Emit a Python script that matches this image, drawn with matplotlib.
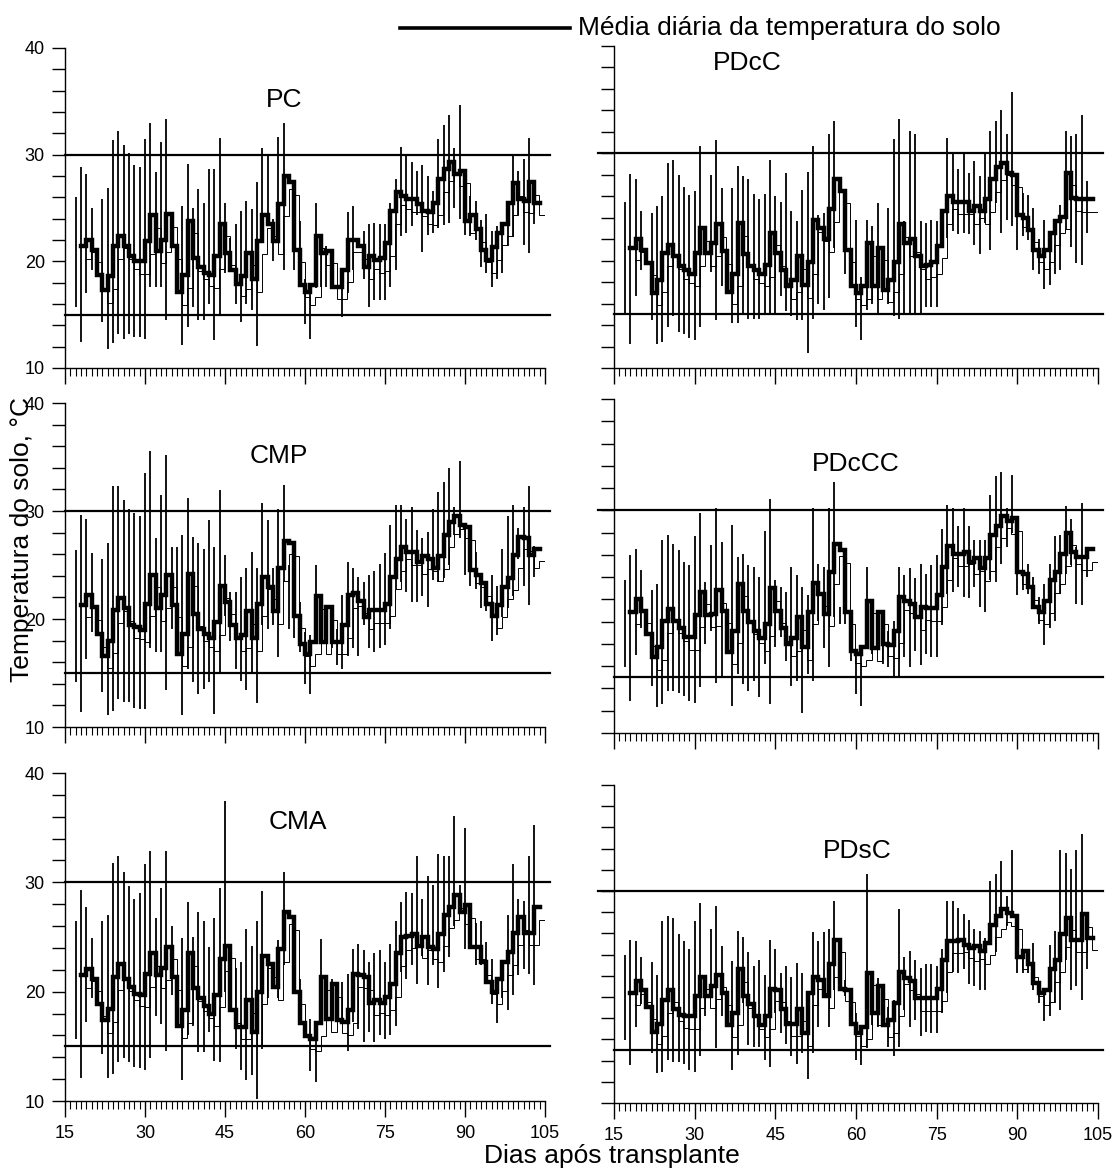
import numpy as np
import matplotlib
matplotlib.use("Agg")
import matplotlib.pyplot as plt
from matplotlib import patheffects as pe
from matplotlib.lines import Line2D
from matplotlib.ticker import FixedLocator, MultipleLocator

plt.rcParams['font.family'] = ['Liberation Sans', 'DejaVu Sans']

nan = np.nan

# ---------------- data (days after transplant 17..103) ----------------
days = list(range(17, 104))
x_ticks = [15, 30, 45, 60, 75, 90, 105]
y_ticks = [10, 12, 14, 16, 18, 20, 22, 24, 26, 28, 30, 32, 34, 36, 38, 40]
y_labels = ["10", "", "", "", "", "20", "", "", "", "", "30", "", "", "", "", "40"]
lower_limit = 15
upper_limit = 30
legend_label = "Média diária da temperatura do solo"
x_label = "Dias após transplante"
y_label = "Temperatura do solo, °C"
panel_names = ["PC", "PDcC", "CMP", "PDcCC", "CMA", "PDsC"]

# ---- PC ----
pc_mean = [nan, 21.4, 22.0, 21.1, 18.7, 17.3, 18.6, 21.4, 22.4, 21.4,
           20.5, 20.0, 20.0, 21.9, 24.3, 21.0, 22.0, 24.4, 21.4, 17.1,
           18.7, 23.8, 20.3, 19.5, 18.9, 18.7, 20.5, 23.5, 20.8, 19.2,
           17.9, 18.6, 20.8, 18.3, 21.9, 24.3, 23.5, 21.9, 25.4, 28.0,
           27.4, 21.1, 17.8, 17.1, 17.8, 22.4, 20.8, 21.0, 17.6, 17.6,
           19.2, 22.0, 22.0, 21.4, 19.5, 20.5, 20.1, 20.3, 21.7, 24.7,
           26.5, 26.1, 25.8, 25.8, 25.4, 24.7, 24.6, 25.5, 27.7, 28.7,
           29.3, 28.2, 28.5, 23.8, 24.3, 23.0, 21.1, 20.1, 21.3, 22.7,
           23.5, 25.5, 27.3, 25.8, 25.7, 27.4, 25.5]
pc_max = [26.0, 28.8, 28.2, 25.0, nan, 25.8, 26.9, 31.4, 32.2, 30.9,
          30.2, 29.0, 28.8, 31.5, 33.0, 28.4, 31.2, 33.3, nan, nan,
          25.2, 29.1, 25.0, 26.8, 25.5, 28.7, 28.7, 31.6, 25.5, 22.2,
          23.5, 24.7, 25.7, 24.9, 27.4, 30.6, 30.1, 24.0, 31.7, 33.0,
          nan, 22.7, 23.8, 18.3, 17.6, 25.5, 22.2, 21.4, nan, nan,
          17.6, 24.6, 25.2, nan, 22.8, 23.5, 23.6, 23.5, 23.5, 25.5,
          27.7, 30.7, 30.1, 29.3, 28.5, 29.0, 28.0, 26.6, 31.5, 32.8,
          33.7, 30.6, 34.7, 25.5, 26.1, 25.7, 23.9, 24.4, 22.8, 23.3,
          23.1, 25.2, 30.1, 28.5, 29.6, 31.6, 26.5]
pc_min = [15.7, 12.4, 17.0, 19.2, nan, 14.3, 11.8, 12.3, 13.2, 12.7,
          13.2, 12.9, 12.9, 12.7, 17.6, 17.6, 17.6, 14.5, nan, nan,
          12.2, 13.8, 15.7, 14.5, 14.5, 16.0, 12.6, 15.1, 18.9, 19.0,
          16.0, 14.3, 16.0, 15.4, 12.1, 23.0, 23.3, 20.0, 24.7, 19.2,
          nan, 19.2, 17.6, 14.1, 12.7, 17.5, 17.6, 17.6, nan, nan,
          14.8, 17.0, 19.2, nan, 18.3, 15.7, 16.4, 16.4, 16.4, 17.6,
          19.2, 22.4, 22.7, 23.3, 24.3, 20.9, 22.5, 22.7, 23.1, 23.4,
          23.6, 25.0, 24.0, 22.5, 22.4, 22.0, 19.5, 18.9, 17.6, 18.3,
          18.9, 21.4, 22.3, 24.3, 21.5, 20.8, 23.5]

# ---- PDcC ----
pdcc_mean = [nan, 21.2, 22.0, 21.0, 19.8, 17.0, 18.2, 20.7, 21.5, 20.4,
             19.5, 19.1, 18.8, 20.7, 23.0, 20.7, 21.6, 23.4, 20.9, 17.1,
             18.8, 23.5, 20.6, 19.5, 19.1, 18.8, 19.6, 22.6, 20.7, 19.1,
             17.6, 18.2, 20.4, 17.7, 19.9, 23.8, 23.0, 22.0, 24.8, 27.6,
             26.5, 21.0, 17.6, 17.0, 17.6, 21.6, 17.6, 21.2, 17.3, 18.2,
             19.9, 23.4, 21.6, 22.0, 20.4, 19.5, 19.6, 19.9, 21.4, 24.6,
             26.0, 25.5, 25.5, 25.5, 24.6, 25.1, 24.6, 25.7, 27.6, 28.7,
             29.1, 28.2, 28.0, 24.3, 24.0, 22.9, 21.0, 20.4, 21.0, 22.6,
             23.7, 24.1, 28.2, 25.8, 25.7, 25.7, 25.7]
pdcc_max = [25.5, 28.1, 27.6, 24.6, nan, 24.4, 25.1, 26.0, 29.1, 29.4,
            28.0, 26.9, 26.1, 26.5, 30.7, nan, 28.0, 31.2, 26.8, nan,
            26.8, 28.8, 27.9, 27.6, 26.2, 25.7, 26.2, 29.4, 26.0, 25.5,
            28.2, 24.6, 23.7, 26.6, 28.3, 30.7, 24.3, 24.4, 31.8, 33.0,
            nan, 24.4, nan, 23.8, 18.5, 23.8, 23.2, 25.4, nan, 24.9,
            31.3, 33.2, 23.7, 32.1, 31.8, 23.7, 23.5, 23.8, 23.7, nan,
            31.4, 29.9, 28.5, 30.1, 28.2, 29.3, 27.9, 29.9, 32.1, 33.0,
            34.0, 31.8, 35.7, 26.9, 26.3, 26.1, 24.9, 22.0, 23.8, 22.3,
            23.2, 25.2, 32.1, 31.6, 31.8, 33.6, 27.4]
pdcc_min = [15.1, 12.2, 16.7, 19.1, nan, 14.5, 12.2, 12.4, 13.8, 14.8,
            13.4, 13.2, 12.8, 12.6, 13.8, nan, 18.9, 14.5, 17.6, nan,
            14.2, 14.2, 15.1, 14.6, 14.6, 14.6, 15.1, 15.1, 14.9, 16.7,
            15.3, 14.8, 14.5, 14.5, 11.4, 14.6, 16.0, 15.4, 16.5, 21.2,
            nan, 18.8, nan, 13.8, 12.6, 15.4, 16.0, 15.1, nan, 16.0,
            14.8, 14.6, 15.1, 15.1, 15.1, 15.1, 15.7, 15.7, 15.7, nan,
            22.1, 22.8, 22.5, 22.6, 22.5, 21.5, 20.6, 23.5, 21.0, 25.4,
            22.6, 23.8, 23.2, 21.0, 22.3, 21.9, 19.1, 18.8, 17.4, 17.7,
            18.8, 19.1, 22.9, 21.3, 19.8, 19.6, 22.6]

# ---- CMP ----
cmp_mean = [nan, 21.3, 22.2, 21.1, 18.6, 16.6, 18.0, 20.8, 21.9, 21.0,
            19.4, 19.3, 19.0, 21.4, 24.1, 21.0, 22.2, 24.1, 21.3, 16.8,
            18.6, 24.2, 20.5, 19.1, 18.6, 18.2, 19.7, 23.1, 21.6, 19.4,
            18.2, 18.5, 20.7, 18.2, 21.4, 23.9, 23.0, 20.7, 24.7, 27.2,
            27.0, 20.3, 17.7, 16.8, 17.9, 22.1, 17.9, 21.1, 17.9, 17.9,
            19.4, 22.2, 22.4, 21.7, 20.2, 20.8, 20.8, 20.8, 21.4, 23.9,
            25.6, 26.7, 26.2, 26.2, 25.3, 25.8, 25.6, 24.7, 25.8, 27.8,
            29.0, 29.5, 28.7, 28.5, 24.5, 24.1, 23.3, 21.4, 20.3, 21.3,
            23.0, 23.8, 25.9, 27.6, 27.5, 25.9, 26.5]
cmp_max = [26.4, 29.6, 29.3, 26.1, nan, 25.6, 27.0, 32.3, 32.3, 31.0,
           30.2, 29.8, 29.5, 33.5, 35.6, 27.5, 31.5, 35.2, 26.7, 26.7,
           27.8, 31.2, 27.6, 27.0, 26.5, 29.2, 26.7, 31.9, 25.9, 22.5,
           22.5, 23.9, 24.7, 26.2, 24.7, 30.7, 29.2, 24.7, 30.2, 32.4,
           25.0, 21.6, 21.6, 18.8, 18.5, 25.0, 21.0, 21.0, 21.0, 19.1,
           22.2, 25.3, 24.7, 23.9, 23.4, 24.1, 24.4, 25.1, 26.1, 28.7,
           30.6, 30.6, 29.3, 30.4, 28.2, 27.5, 28.1, 30.2, 31.8, 32.7,
           34.0, 30.4, 34.6, 28.5, 24.8, 26.2, 23.8, 22.5, 24.1, 23.1,
           26.5, 29.5, 30.6, 28.4, 30.4, 32.3, 26.8]
cmp_min = [14.2, 11.4, 16.3, 18.8, nan, 13.2, 11.1, 11.5, 12.6, 12.3,
           12.3, 11.8, 11.7, 11.7, 17.3, 16.9, 16.9, 13.4, 19.1, 17.7,
           11.1, 15.4, 14.2, 13.1, 13.5, 14.2, 11.2, 15.1, 20.3, 18.0,
           15.4, 14.3, 13.4, 14.9, 12.2, 19.4, 19.1, 19.4, 16.5, 23.4,
           19.1, 18.2, 16.9, 14.0, 13.1, 18.2, 17.9, 17.9, 17.3, 15.7,
           15.4, 16.6, 17.3, 16.6, 19.4, 17.3, 16.9, 17.3, 17.6, 19.1,
           22.8, 23.4, 22.5, 21.6, 21.6, 22.1, 21.1, 23.6, 23.4, 23.8,
           25.0, 27.8, 27.5, 24.1, 23.1, 22.8, 21.0, 20.7, 18.0, 18.5,
           20.2, 21.0, 22.1, 25.6, 23.1, 21.3, 23.9]

# ---- PDcCC ----
pdccc_mean = [nan, 20.9, 22.0, 21.0, 18.9, 16.8, 17.7, 20.1, 21.1, 20.1,
              19.4, 18.6, 18.6, 20.6, 22.7, 20.6, 20.7, 22.8, 21.0, 17.3,
              19.2, 23.4, 21.0, 20.0, 19.2, 18.5, 19.8, 23.0, 21.0, 19.4,
              18.0, 18.5, 20.4, 17.7, 20.9, 23.5, 22.5, 20.7, 24.5, 27.0,
              26.4, 20.9, 17.4, 17.1, 17.7, 21.9, 17.6, 20.9, 18.0, 17.9,
              19.2, 22.2, 21.9, 21.6, 20.4, 21.3, 21.2, 21.2, 22.4, 24.9,
              26.8, 26.1, 26.1, 26.3, 25.4, 25.7, 24.8, 25.7, 27.8, 28.6,
              29.5, 29.0, 29.3, 24.5, 24.3, 23.1, 21.3, 20.9, 21.9, 23.7,
              24.5, 26.1, 28.0, 26.3, 25.8, 25.8, 26.5]
pdccc_max = [23.7, 26.0, 26.5, 24.6, nan, 22.8, 23.4, 27.3, 27.8, 27.0,
             26.4, 25.4, 25.1, 27.7, 29.8, 23.6, 26.9, 30.2, 27.2, nan,
             28.7, 25.8, 26.1, 25.1, 24.9, 24.0, 28.1, 31.0, 23.7, 23.1,
             22.7, 24.9, 24.2, 23.1, 22.4, 30.2, 25.2, 24.9, 30.2, 32.5,
             21.3, 21.3, 18.0, 17.1, 17.4, 24.9, 18.3, 21.0, 19.2, 19.2,
             20.1, 24.9, 24.2, 24.8, 23.9, 25.2, 24.3, 25.1, 26.0, 28.3,
             30.5, 30.2, 28.6, 30.2, 28.6, 27.3, 27.3, 27.3, 31.4, 33.1,
             33.4, 30.2, 33.2, 26.9, 24.6, 25.2, 24.0, 22.2, 23.4, 25.2,
             27.7, 27.8, 30.4, 29.2, 26.7, 30.7, 26.7]
pdccc_min = [15.9, 12.9, 17.0, 19.4, nan, 14.2, 12.3, 12.6, 13.8, 13.8,
             13.6, 13.3, 12.9, 12.7, 14.1, 18.0, 19.2, 14.5, 15.0, nan,
             12.4, 15.3, 14.4, 13.8, 14.7, 13.2, 16.2, 12.6, 17.7, 18.6,
             16.5, 14.2, 14.7, 11.8, 15.3, 14.7, 20.1, 17.6, 15.9, 20.4,
             19.8, 19.8, 16.5, 13.5, 12.4, 19.8, 17.1, 17.6, 16.2, 15.9,
             15.0, 15.0, 16.8, 15.9, 17.4, 16.1, 17.1, 16.8, 16.8, 19.7,
             22.5, 22.7, 23.1, 22.2, 22.1, 23.1, 21.3, 20.9, 23.7, 23.6,
             25.2, 26.7, 28.0, 22.4, 22.8, 22.5, 21.3, 19.8, 17.9, 19.4,
             20.1, 22.5, 24.3, 25.1, 21.6, 21.5, 24.0]

# ---- CMA ----
cma_mean = [nan, 21.5, 22.1, 21.2, 18.9, 17.4, 18.4, 21.3, 22.5, 21.2,
            20.4, 19.8, 19.7, 21.6, 23.5, 21.5, 22.2, 24.1, 21.3, 16.9,
            18.3, 23.5, 20.3, 19.4, 18.7, 18.0, 19.7, 23.0, 24.2, 18.3,
            16.8, 16.8, 19.2, 16.3, 20.0, 23.3, 22.5, 20.4, 23.9, 27.3,
            26.8, 20.0, 17.1, 15.9, 15.7, 17.1, 21.3, 17.5, 20.7, 17.4,
            17.2, 18.3, 21.6, 21.5, 21.3, 19.0, 19.2, 19.0, 19.5, 20.7,
            23.5, 25.0, 25.1, 25.3, 24.2, 25.0, 24.1, 23.9, 25.3, 27.0,
            27.7, 28.8, 27.3, 27.9, 24.1, 24.1, 22.7, 20.9, 20.0, 21.2,
            22.7, 23.6, 25.4, 26.8, 25.4, 25.4, 27.7]
cma_max = [26.5, 29.3, 27.7, 24.9, nan, 26.5, 27.0, 31.8, 32.4, 30.9,
           29.7, 28.5, 29.0, 31.7, 32.9, 26.7, 29.5, 32.9, 26.0, nan,
           24.9, 28.2, 25.0, 27.3, 26.5, 24.1, 26.7, 29.5, 37.4, 23.6,
           22.2, 22.7, 25.7, 24.2, 26.5, 29.2, 22.4, nan, 24.7, 30.9,
           nan, nan, 21.2, nan, 17.5, 17.2, 24.8, 21.2, 21.2, nan,
           20.9, 21.6, 23.9, 24.4, 23.8, 22.7, 23.5, 23.8, 22.7, 24.4,
           26.5, 28.2, 29.1, 29.0, 32.4, 28.5, 30.6, 29.8, 32.6, 32.4,
           32.4, 36.1, 29.8, 35.0, 27.9, 26.3, 26.5, 24.5, 23.0, 21.3,
           22.9, 27.0, 31.7, 28.5, 28.3, 32.4, 35.2]
cma_min = [15.7, 12.1, 17.2, 19.4, nan, 14.3, 12.1, 12.5, 13.6, 13.9,
           13.6, 13.1, 13.0, 12.8, 13.9, 17.8, 17.0, 14.6, 19.7, nan,
           11.9, 16.0, 16.9, 14.5, 14.5, 16.3, 13.7, 13.6, 20.0, 18.1,
           14.8, 12.8, 11.9, 12.4, 10.2, 14.8, 19.4, nan, 19.4, 22.4,
           nan, nan, 17.5, nan, 12.7, 11.7, 17.5, 17.5, 17.5, nan,
           17.2, 14.6, 17.2, 16.6, 15.4, 16.3, 15.4, 16.0, 15.7, 16.0,
           16.9, 21.8, 21.2, 22.4, 20.7, 23.3, 20.6, 22.4, 20.3, 21.8,
           23.2, 26.0, 27.3, 23.9, 24.5, 22.4, 22.4, 21.0, 18.9, 17.1,
           19.4, 18.3, 19.7, 21.5, 22.1, 21.6, 20.6]

# ---- PDsC ----
pdsc_mean = [nan, 20.4, 21.5, 20.7, 19.1, 16.7, 17.5, 19.7, 20.7, 18.9,
             18.3, 18.2, 18.2, 20.1, 21.9, 20.1, 21.0, 22.1, 20.4, 17.4,
             18.5, 22.6, 20.1, 19.3, 18.2, 17.4, 18.2, 20.8, 20.7, 18.9,
             17.5, 17.5, 18.9, 16.6, 20.4, 21.9, 21.6, 20.1, 23.1, 25.4,
             20.8, 20.7, 17.5, 16.6, 17.2, 22.3, 18.5, 21.0, 17.4, 17.8,
             19.4, 22.4, 21.8, 21.5, 19.9, 19.9, 19.9, 19.9, 20.8, 23.5,
             25.3, 25.3, 25.4, 24.9, 24.6, 24.8, 24.3, 25.1, 26.8, 27.6,
             28.3, 27.9, 27.6, 23.8, 24.3, 23.1, 21.3, 20.4, 20.7, 22.6,
             23.5, 25.9, 27.5, 25.4, 25.4, 27.8, 25.6]
pdsc_max = [24.0, 25.4, 25.3, 23.8, nan, 23.3, 22.1, 27.2, 27.6, 27.5,
            25.9, 25.3, 24.5, 27.2, 28.9, 21.3, 26.4, 28.6, 24.8, nan,
            23.4, 26.2, 25.7, 24.2, 22.9, 23.5, 22.1, 25.4, 24.5, 22.3,
            22.9, 21.9, 23.2, 22.3, 20.4, 26.1, 25.3, 26.1, 26.4, 29.1,
            nan, 21.6, 20.7, 18.5, 17.2, 31.6, 22.1, 21.8, 20.7, 19.1,
            19.7, 28.3, 23.8, 24.3, 23.5, 22.7, 23.1, 23.1, 22.9, 24.5,
            29.1, 29.1, 28.4, 27.8, 27.3, 26.4, 26.2, 25.6, 30.9, 31.6,
            32.8, 29.5, 33.9, 25.4, 24.5, 24.3, 25.1, 21.3, 20.7, 24.9,
            26.2, 33.9, 33.6, 32.1, 33.9, 35.4, 27.0]
pdsc_min = [15.9, 13.6, 17.2, 19.3, nan, 14.7, 12.8, 12.9, 14.1, 13.9,
            13.9, 13.7, 13.1, 12.9, 14.4, 18.2, 20.1, 15.2, 18.2, nan,
            13.1, 14.5, 19.4, 15.5, 15.3, 15.3, 14.1, 13.4, 18.5, 16.6,
            15.6, 14.4, 13.7, 14.7, 12.3, 14.7, 17.2, 20.7, 17.2, 20.7,
            nan, 20.1, 17.5, 14.1, 13.6, 15.2, 17.4, 17.2, 17.2, 15.3,
            14.4, 15.3, 18.8, 17.2, 17.8, 16.3, 16.7, 16.6, 16.6, 18.5,
            20.4, 22.4, 22.3, 22.6, 21.2, 21.0, 20.7, 20.7, 25.1, 24.2,
            27.6, 26.7, 27.8, 22.3, 22.3, 22.3, 20.7, 19.4, 17.7, 18.2,
            19.4, 18.8, 23.5, 20.7, 21.0, 19.7, 22.6]

series = {
    "PC": (pc_mean, pc_min, pc_max),
    "PDcC": (pdcc_mean, pdcc_min, pdcc_max),
    "CMP": (cmp_mean, cmp_min, cmp_max),
    "PDcCC": (pdccc_mean, pdccc_min, pdccc_max),
    "CMA": (cma_mean, cma_min, cma_max),
    "PDsC": (pdsc_mean, pdsc_min, pdsc_max),
}

# ---------------- layout (pixel geometry of the reference) ----------------
W, H = 1116, 1169
fig = plt.figure(figsize=(W / 100, H / 100), dpi=100)


def rect(x0, x1, ytop, ybot):
    return [x0 / W, 1 - ybot / H, (x1 - x0) / W, (ybot - ytop) / H]


layout = {
    "PC":    dict(r=rect(65, 545, 48, 368),   col=0, bottom=False, title=(284, 100)),
    "PDcC":  dict(r=rect(614, 1098, 46, 368), col=1, bottom=False, title=(747, 63)),
    "CMP":   dict(r=rect(65, 545, 403, 727),  col=0, bottom=False, title=(279, 456)),
    "PDcCC": dict(r=rect(614, 1098, 399, 733), col=1, bottom=False, title=(856, 464)),
    "CMA":   dict(r=rect(65, 545, 773, 1101), col=0, bottom=True, title=(298, 822)),
    "PDsC":  dict(r=rect(614, 1098, 785, 1103), col=1, bottom=True, title=(857, 851)),
}

shadow = [pe.SimpleLineShadow(offset=(3.5, -9), shadow_color='black', alpha=1.0,
                              rho=1.0, linewidth=0.7),
          pe.Normal()]

for name in panel_names:
    mean, tmin, tmax = series[name]
    L = layout[name]
    ax = fig.add_axes(L["r"])
    ax.set_xlim(15, 105)
    ax.set_ylim(10, 40)

    # reference limits 15 and 30 degC
    x_start = 12 if L["col"] == 1 else 15
    ax.plot([x_start, 106], [upper_limit, upper_limit], color='black', lw=1.6,
            clip_on=False, zorder=2)
    ax.plot([15, 106], [lower_limit, lower_limit], color='black', lw=1.6,
            clip_on=False, zorder=2)

    # daily range (min-max)
    ax.vlines(days, tmin, tmax, color='black', lw=1.3, zorder=3)

    # daily mean as a step line (with thin offset shadow)
    xs = days + [days[-1] + 1]
    ys = mean + [mean[-1]]
    ax.plot(xs, ys, drawstyle='steps-post', color='black', lw=3.2,
            solid_joinstyle='miter', zorder=4, path_effects=shadow)

    for s in ("top", "right"):
        ax.spines[s].set_visible(False)
    for s in ("left", "bottom"):
        ax.spines[s].set_linewidth(1.0)

    ax.xaxis.set_major_locator(FixedLocator(x_ticks))
    ax.xaxis.set_minor_locator(MultipleLocator(1))
    ax.tick_params(axis='x', which='major', direction='out', length=11.5, width=1.0,
                   pad=6, labelsize=13)
    ax.tick_params(axis='x', which='minor', direction='out', length=6, width=0.8)
    ax.set_xticklabels([str(v) for v in x_ticks])
    if not L["bottom"]:
        ax.tick_params(axis='x', which='both', labelbottom=False)

    ax.set_yticks(y_ticks)
    ax.set_yticklabels(y_labels if L["col"] == 0 else [""] * len(y_ticks))
    ax.tick_params(axis='y', which='major', direction='out', length=9.5, width=1.0,
                   pad=5, labelsize=13)

    tx, ty = L["title"]
    fig.text(tx / W, 1 - ty / H, name, ha='center', va='center', fontsize=19)

# legend at top
fig.add_artist(Line2D([400 / W, 570 / W], [1 - 28 / H, 1 - 28 / H], color='black', lw=2.6))
fig.text(578 / W, 1 - 35 / H, legend_label, ha='left', va='baseline', fontsize=19)

# axis labels
fig.text(612 / W, 1 - 1156 / H, x_label, ha='center', va='center', fontsize=19)
fig.text(22 / W, 1 - 539 / H, y_label, ha='center', va='center', rotation=90, fontsize=19)

fig.savefig("out.png", dpi=100)
